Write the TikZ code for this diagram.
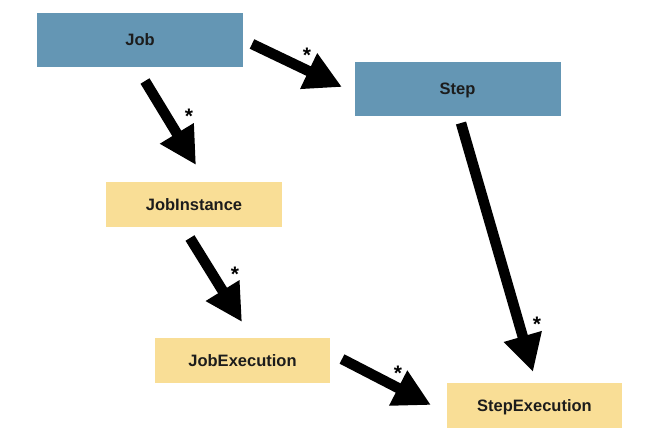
\documentclass[tikz,border=0pt]{standalone}
\usepackage{fontspec}
\setmainfont{Liberation Sans}
\usetikzlibrary{%
	arrows.meta,%
	positioning%
}

\definecolor{batchblue}{RGB}{100,150,180}
\definecolor{batchyellow}{RGB}{249,222,150}
\definecolor{batchtext}{RGB}{28,28,28}

\begin{document}
\begin{tikzpicture}[x=1pt,y=-1pt,
	box/.style={inner sep=0pt,text=batchtext,text height=12pt,text depth=0pt,font=\fontsize{16.5}{20}\selectfont\bfseries},
	bluebox/.style={box,fill=batchblue,minimum width=206pt,minimum height=54pt},
	yellowbox/.style={box,fill=batchyellow,minimum width=175pt,minimum height=45pt},
	fatarrow/.style={line width=10.5pt,-{Triangle[length=37pt,width=37pt]}},
	many/.style={inner sep=0pt,font=\fontsize{21}{24}\selectfont\bfseries}]
	\useasboundingbox (0,0) rectangle (656,436);
	
	% Boxes
	\node[bluebox] (job) at (140,40) {Job};
	\node[bluebox] (step) at (457.5,89) {Step};
	\node[yellowbox,minimum width=176pt] (jobinstance) at (194,204) {JobInstance};
	\node[yellowbox] (jobexecution) at (242.5,360.5) {JobExecution};
	\node[yellowbox] (stepexecution) at (534.5,405.5) {StepExecution};
	
	% Arrow ends
	\coordinate (jobS) at (252,44);
	\coordinate (stepT) at (342,87);
	\coordinate (jobD) at (145,81);
	\coordinate (jobinstanceT) at (196,165);
	\coordinate (jobinstanceS) at (190,238);
	\coordinate (jobexecutionT) at (242,322);
	\coordinate (jobexecutionS) at (342,359);
	\coordinate (stepexecutionL) at (431,405);
	\coordinate (stepS) at (461,123);
	\coordinate (stepexecutionT) at (533,372);
	
	% Arrows
	\foreach \from/\to in {jobS/stepT,jobD/jobinstanceT,jobinstanceS/jobexecutionT,jobexecutionS/stepexecutionL,stepS/stepexecutionT}
	\draw[fatarrow] (\from) -- (\to);
	
	% Multiplicities
	\foreach \name/\pos in {m1/{(307,55)},m2/{(189,116)},m3/{(235,274)},m4/{(398,373)},m5/{(537,324)}}
	\node[many] (\name) at \pos {*};
\end{tikzpicture}
\end{document}
